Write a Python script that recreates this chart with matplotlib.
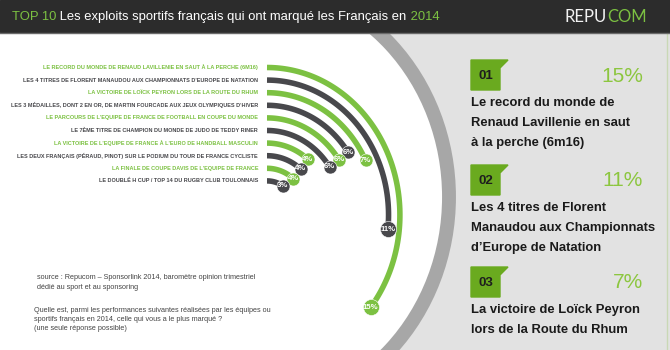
import numpy as np
import matplotlib.pyplot as plt
from matplotlib.patches import Rectangle, Ellipse, Arc, Polygon

# donnees du graphique
values = [15, 11, 7, 6, 6, 6, 4, 4, 4, 3]
labels = [
    "LE RECORD DU MONDE DE RENAUD LAVILLENIE EN SAUT À LA PERCHE (6M16)",
    "LES 4 TITRES DE FLORENT MANAUDOU AUX CHAMPIONNATS D'EUROPE DE NATATION",
    "LA VICTOIRE DE LOÏCK PEYRON LORS DE LA ROUTE DU RHUM",
    "LES 3 MÉDAILLES, DONT 2 EN OR, DE MARTIN FOURCADE AUX JEUX OLYMPIQUES D'HIVER",
    "LE PARCOURS DE L'EQUIPE DE FRANCE DE FOOTBALL EN COUPE DU MONDE",
    "LE 7ÈME TITRE DE CHAMPION DU MONDE DE JUDO DE TEDDY RINER",
    "LA VICTOIRE DE L'EQUIPE DE FRANCE À L'EURO DE HANDBALL MASCULIN",
    "LES DEUX FRANÇAIS (PÉRAUD, PINOT) SUR LE PODIUM DU TOUR DE FRANCE CYCLISTE",
    "LA FINALE DE COUPE DAVIS DE L'EQUIPE DE FRANCE",
    "LE DOUBLÉ H CUP / TOP 14 DU RUGBY CLUB TOULONNAIS",
]
top_rank = ["01", "02", "03"]
top_pct = [15, 11, 7]
top_text = [
    ["Le record du monde de", "Renaud Lavillenie en saut", "à la perche (6m16)"],
    ["Les 4 titres de Florent", "Manaudou aux Championnats", "d\u2019Europe de Natation"],
    ["La victoire de Loïck Peyron", "lors de la Route du Rhum"],
]
source_txt = ["source : Repucom \u2013 Sponsorlink 2014, baromètre opinion trimestriel",
              "dédié au sport et au sponsoring"]
question_txt = ["Quelle est, parmi les performances suivantes réalisées par les équipes ou",
                "sportifs français en 2014, celle qui vous a le plus marqué ?",
                "(une seule réponse possible)"]

green = "#7cc142"
dark = "#48484c"
sans = ["Liberation Sans", "DejaVu Sans"]

W, H = 670, 350
fig = plt.figure(figsize=(W / 100, H / 100), dpi=100)
bg = fig.add_axes([0, 0, 1, 1])
bg.set_xlim(0, W)
bg.set_ylim(H, 0)
bg.axis("off")

# fond : panneau gris a droite, disque blanc avec anneau gris
ex, ey, erx, ery = 251, 197, 198, 215
bg.add_patch(Rectangle((ex, 0), W - ex, H, color="#e2e2e2", zorder=0))
bg.add_patch(Rectangle((0, 0), ex, H, color="white", zorder=0))
bg.add_patch(Ellipse((ex, ey), 2 * erx, 2 * ery, color="white", zorder=1))
bg.add_patch(Arc((ex, ey), 2 * erx, 2 * ery, theta1=-90, theta2=90,
                 color="#a7a7a7", lw=10, zorder=2))
bg.plot([667, 667], [33, H], color="#c9d8b6", lw=1, zorder=2)

# bandeau du titre
bg.add_patch(Rectangle((0, 0), W, 32, color="#2c2c2c", zorder=3))
bg.plot([0, W], [32.5, 32.5], color="#6a6a6a", lw=1, zorder=3)
t = bg.text(12, 17, "TOP 10", color=green, fontsize=9.4, family=sans,
            va="center", zorder=4)
t = bg.annotate(" Les exploits sportifs français qui ont marqué les Français en",
                xy=(1, 0.5), xycoords=t, va="center", color="white",
                fontsize=9.4, family=sans, zorder=4)
bg.annotate(" 2014", xy=(1, 0.5), xycoords=t, va="center", color=green,
            fontsize=9.4, family=sans, zorder=4)
t = bg.text(565, 17, "REPU", color="#f2f2f2", fontsize=12, family=["Lato", "DejaVu Sans"],
            va="center", zorder=4)
bg.annotate("COM", xy=(1, 0.5), xycoords=t, va="center", color=green,
            fontsize=12, family=["Lato", "DejaVu Sans"], zorder=4)

# libelles des barres
row0, step = 67.5, 12.6
rows = [row0 + step * i for i in range(len(values))]
cols = [green if i % 2 == 0 else dark for i in range(len(values))]
for y, lab, c in zip(rows, labels, cols):
    bg.text(258, y, lab, ha="right", va="center", color=c, fontsize=4.0,
            family=sans, fontweight="bold", zorder=4)

# barres circulaires (axe polaire etire)
cx, cy, rmax, sx = 267, 215, 160, 0.901
pw, ph = 2 * rmax * sx, 2 * rmax
pax = fig.add_axes([(cx - pw / 2) / W, (H - cy - rmax) / H, pw / W, ph / H],
                   projection="polar")
pax.set_theta_zero_location("N")
pax.set_theta_direction(-1)
pax.set_ylim(0, rmax)
pax.set_aspect("auto")
pax.axis("off")
pax.patch.set_alpha(0)

for y, v, c in zip(rows, values, cols):
    r = cy - y
    th_end = np.radians(6.3 + 8.16 * v)
    th = np.linspace(0, th_end, 120)
    pax.plot(th, np.full_like(th, r), color=c, lw=4, solid_capstyle="butt",
             clip_on=False)
    d = 16 if v >= 10 else 13
    pax.scatter([th_end], [r], s=(d * 0.72) ** 2, color=c, zorder=5,
                clip_on=False, edgecolors="white", linewidths=0.4)
    pax.text(th_end, r, f"{v}%", ha="center", va="center", color="white",
             fontsize=5.6, family=sans, fontweight="bold", zorder=6)

# panneau des 3 premiers
box_top = [60, 165, 267]
for k in range(3):
    y0 = box_top[k]
    bg.add_patch(Polygon([(471, y0), (508, y0), (500, y0 + 8), (500, y0 + 30),
                          (471, y0 + 30)], closed=True, color="#6aaa1f", zorder=3))
    bg.text(485.5, y0 + 16, top_rank[k], ha="center", va="center", color="#1e1e1e",
            fontsize=9.5, family=sans, fontweight="bold", zorder=4)
    bg.text(643, y0 + 16, f"{top_pct[k]}%", ha="right", va="center", color="#8cc63f",
            fontsize=15, family=sans, zorder=4)
    for j, line in enumerate(top_text[k]):
        bg.text(471, y0 + 43 + 20 * j, line, ha="left", va="center", color="#1a1a1a",
                fontsize=9.4, family=sans, fontweight="bold", zorder=4)

# notes en bas a gauche
for j, line in enumerate(source_txt):
    bg.text(37, 277.5 + 9.6 * j, line, ha="left", va="center", color="#444444",
            fontsize=5.2, family=sans, zorder=4)
for j, line in enumerate(question_txt):
    bg.text(34, 311 + 8.7 * j, line, ha="left", va="center", color="#444444",
            fontsize=5.2, family=sans, zorder=4)

fig.savefig("out.png", dpi=100)
